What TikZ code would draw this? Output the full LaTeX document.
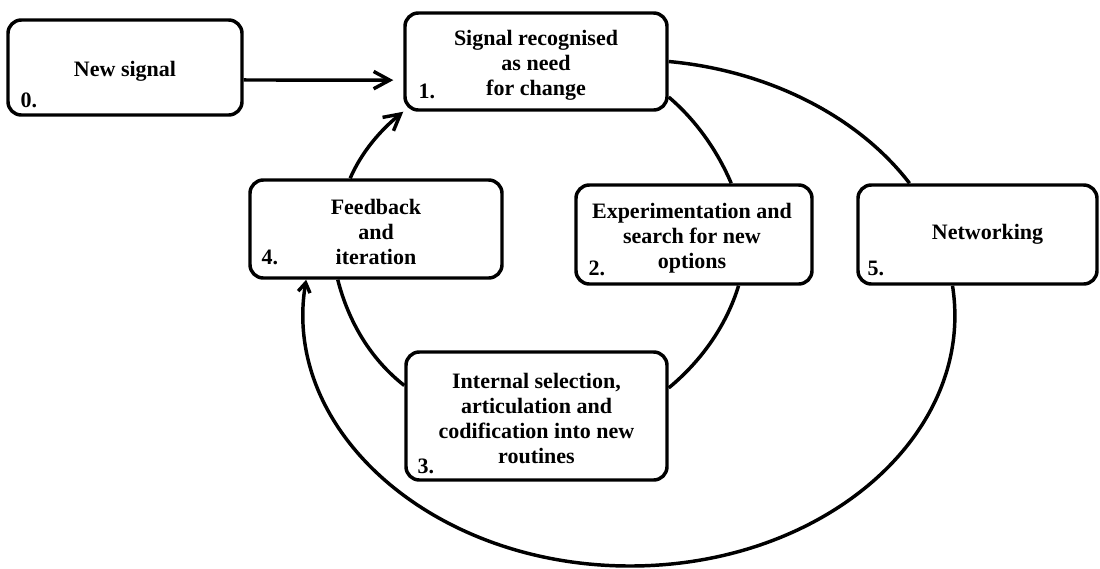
\documentclass[tikz,border=0pt]{standalone}
\usepackage{fontspec}
\setmainfont{Liberation Serif}
\usetikzlibrary{arrows.meta,calc}
\begin{document}
\begin{tikzpicture}[x=0.75pt,y=0.75pt,
  txt/.style={font=\bfseries\fontsize{16.5}{18.75}\selectfont, inner sep=0pt},
  box/.style 2 args={draw, line width=2.6pt, rounded corners=10pt, fill=white,
    inner sep=0pt, minimum width=#1*0.75pt, minimum height=#2*0.75pt},
  label text/.style={txt, align=center},
  num/.style={anchor=base west, txt},
  link/.style={line width=2.6pt},
  bigtip/.style={-{Straight Barb[length=12pt,width=13pt]}},
  smalltip/.style={-{Straight Barb[length=7pt,width=9pt]}},
]
\useasboundingbox (0,0) rectangle (1100,-568);

% stages
\node[box={234}{95}]  (b0) at (125,-67.5)    {};
\node[box={262}{97}]  (b1) at (536,-61.5)    {};
\node[box={252}{98}]  (b4) at (376,-229)     {};
\node[box={236}{99}]  (b2) at (694,-234.5)   {};
\node[box={239}{99}]  (b5) at (977.5,-234.5) {};
\node[box={261}{128}] (b3) at (536.5,-416)   {};

% stage texts
\node[label text] (t0) at ($(b0.center)+(0,-4)$)  {New signal};
\node[label text] (t1) at ($(b1.center)+(0,-4)$)  {Signal recognised\\as need\\for change};
\node[label text] (t4) at ($(b4.center)+(0,-3)$)  {Feedback\\and\\iteration};
\node[label text] (t2) at ($(b2.center)+(-2,-4)$) {Experimentation and\\search for new\\options};
\node[label text] (t5) at ($(b5.center)+(10,0)$)  {Networking};
\node[label text] (t3) at ($(b3.center)+(0,-2)$)  {Internal selection,\\articulation and\\codification into new\\routines};

% stage numbers
\node[num] (n0) at ($(b0.south west)+(14,9)$)  {0.};
\node[num] (n1) at ($(b1.south west)+(15,13)$) {1.};
\node[num] (n2) at ($(b2.south west)+(14,10)$) {2.};
\node[num] (n3) at ($(b3.south west)+(13,8)$)  {3.};
\node[num] (n4) at ($(b4.south west)+(13,15)$) {4.};
\node[num] (n5) at ($(b5.south west)+(11,10)$) {5.};

% new signal enters the cycle
\draw[link,bigtip,shorten >=7.5pt] (b0.-6.1) -- (b1.188);

% inner learning cycle
\draw[link] (b1.-15.8) .. controls (696.8,-121) and (717.6,-151.4) .. (b2.54);
\draw[link] (b2.-49.7) .. controls (726.7,-325) and (701.5,-360.9) .. (b3.12.1);
\draw[link] (b3.167.5) .. controls (370,-358.6) and (348.3,-321) .. (b4.233.7);
\draw[link,bigtip] (b4.117.9) .. controls (361.8,-151.7) and (380.5,-130.2) .. (b1.south west);

% outer networking loop
\coordinate (bot) at (630,-566);
\draw[link] (b1.east) .. controls (768,-70.6) and (857.9,-116) .. (b5.143.7);
\draw[link,smalltip] (b5.-116.3) .. controls (975.8,-433.5) and (824.7,-566) .. (bot)
  .. controls (432.8,-566) and (281,-430.3) .. (b4.-144.2);
\end{tikzpicture}
\end{document}
